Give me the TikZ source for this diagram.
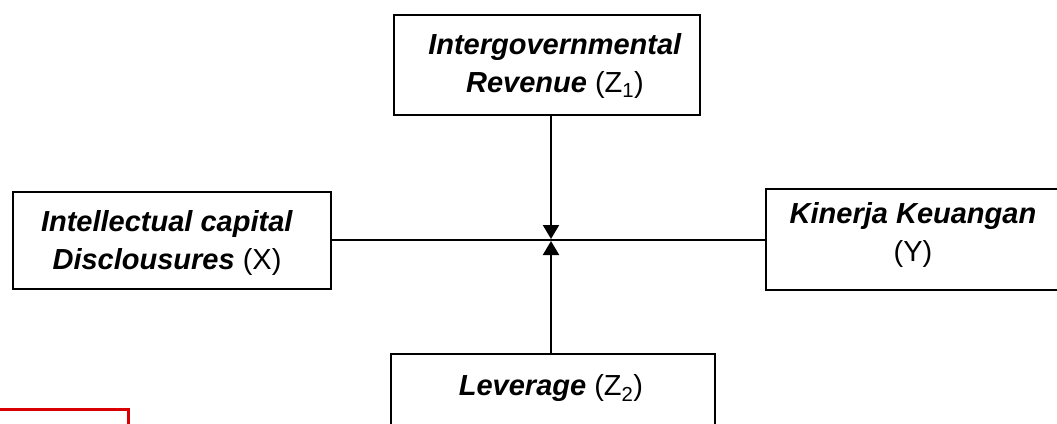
\documentclass[tikz,border=0pt]{standalone}
\usepackage{fontspec}
\setmainfont{Liberation Sans}
\usetikzlibrary{arrows.meta}
\definecolor{boxred}{RGB}{218,0,0}
\begin{document}
\begin{tikzpicture}[x=1pt,y=-1pt,
  box/.style={draw=black,line width=2pt,inner sep=0pt,anchor=north west},
  lbl/.style={font=\fontsize{29}{38}\selectfont,align=center,inner sep=0pt},
  conn/.style={draw=black,line width=2pt},
  arr/.style={conn,-{Triangle[width=16pt,length=14pt]}}]
\useasboundingbox (0,0) rectangle (1057,423);
\clip (0,0) rectangle (1057,423);
\fill[white] (0,0) rectangle (1057,423);
% boxes
\node[box,minimum width=306pt,minimum height=100pt] (z1) at (393,14) {};
\node[box,minimum width=318pt,minimum height=97pt] (x) at (12,191) {};
\node[box,minimum width=296pt,minimum height=101pt] (y) at (765,188) {};
\node[box,minimum width=324pt,minimum height=100pt] (z2) at (390,353) {};
% texts
\node[lbl] (z1t) at (555,66) {\textbf{\textit{Intergovernmental}}\\\textbf{\textit{Revenue}} (Z\textsubscript{1})};
\node[lbl] (xt) at (167,243) {\textbf{\textit{Intellectual capital}}\\\textbf{\textit{Disclousures}} (X)};
\node[lbl] (yt) at (913,235) {\textbf{\textit{Kinerja Keuangan}}\\(Y)};
\node[lbl] (z2t) at (551,388) {\textbf{\textit{Leverage}} (Z\textsubscript{2})};
% connectors
\coordinate (tipdown) at (551,239);
\coordinate (tipup) at (551,241);
\draw[conn] (x.east |- 0,240) -- (y.west |- 0,240);
\draw[arr] (tipdown |- z1.south) -- (tipdown);
\draw[arr] (tipup |- z2.north) -- (tipup);
% red box (cropped)
\draw[boxred,line width=3pt] (-10,409) rectangle (128,450);
\end{tikzpicture}
\end{document}
